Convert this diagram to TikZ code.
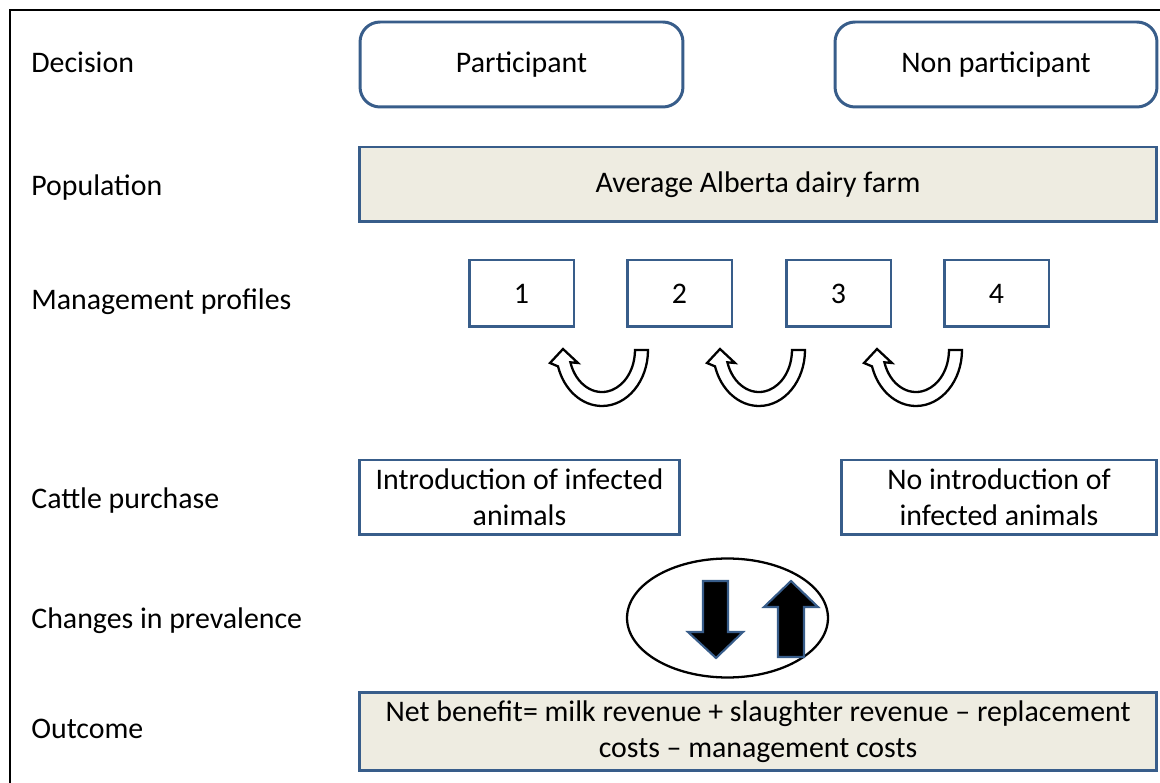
\documentclass[tikz,border=0pt]{standalone}
\usepackage{fontspec}
\setmainfont{Carlito}
\usepackage{xcolor}
\usepackage{tikz}
\usetikzlibrary{shapes.geometric}

\definecolor{boxblue}{RGB}{56,93,138}
\definecolor{boxbeige}{RGB}{238,236,225}

\begin{document}
\begin{tikzpicture}[x=0.02cm, y=-0.02cm,
    font=\fontsize{17}{20.5}\selectfont,
    lbl/.style={anchor=base west, inner sep=0pt},
    box/.style={draw=boxblue, line width=1.7pt, align=center, inner sep=0pt},
    roundbox/.style={box, rounded corners=0.4cm, minimum height=1.7cm},
    greybox/.style={box, fill=boxbeige},
    profbox/.style={box, minimum width=2.1cm, minimum height=1.34cm},
    uturn/.style={draw=black, line width=1.3pt, fill=white},
    fatarrow/.style={draw=boxblue, line width=1.2pt, fill=black}]

                \useasboundingbox (0,0) rectangle (1160,783);

                % Frame (left and top only)
                \draw[line width=1.1pt] (10,783) -- (10,10) -- (1160,10);

                % Row labels
                \node[lbl] (decision) at (31,73) {Decision};
                \node[lbl] (popul) at (31,196) {Population};
                \node[lbl] (mgmt) at (31,310) {Management profiles};
                \node[lbl] (cattle) at (31,509) {Cattle purchase};
                \node[lbl] (changes) at (31,629) {Changes in prevalence};
                \node[lbl] (outc) at (31,738) {Outcome};

                % Decision
                \node[roundbox, minimum width=6.46cm] (part) at (521.5,64.5) {Participant};
                \node[roundbox, minimum width=6.44cm] (nonpart) at (996,64.5) {Non participant};

                % Population
                \node[greybox, minimum width=15.96cm, minimum height=1.5cm] (farm) at (758,184.5) {Average Alberta dairy farm};

                % Management profiles 1 to 4
                \node[profbox] (prof1) at (521.5,293.5) {1};
                \node[profbox] (prof2) at (679.5,293.5) {2};
                \node[profbox] (prof3) at (838.5,293.5) {3};
                \node[profbox] (prof4) at (996.5,293.5) {4};

                % U-turn arrows between the profiles
                \foreach \cx in {602,759,916} {
                    \draw[uturn] ({\cx+46},350) arc[start angle=0, end angle=163, x radius=46, y radius=56]
                        -- ({\cx-52},363) -- ({\cx-39},349) -- ({\cx-24},363) -- ({\cx-31.6},362.3)
                        arc[start angle=163, end angle=0, x radius=33, y radius=42] -- cycle;
                }

                % Cattle purchase
                \node[box, minimum width=6.42cm, minimum height=1.5cm] (intro) at (519.5,497.5) {Introduction of infected\\animals};
                \node[box, minimum width=6.32cm, minimum height=1.5cm] (nointro) at (999,497.5) {No introduction of\\infected animals};

                % Changes in prevalence
                \node[ellipse, draw, line width=1.3pt, inner sep=0pt, minimum width=4.02cm, minimum height=2.38cm] (prev) at (727.5,618) {};
                \draw[fatarrow] (703,581) -- (728,581) -- (728,632) -- (743,632) -- (716,658) -- (688,632) -- (703,632) -- cycle;
                \draw[fatarrow] (778,657) -- (804,657) -- (804,607) -- (818,607) -- (791,581) -- (764,607) -- (778,607) -- cycle;

                % Outcome
                \node[greybox, minimum width=15.96cm, minimum height=1.58cm] (benefit) at (758,731.5)
                    {Net benefit= milk revenue + slaughter revenue -- replacement\\costs -- management costs};

            \end{tikzpicture}
\end{document}
